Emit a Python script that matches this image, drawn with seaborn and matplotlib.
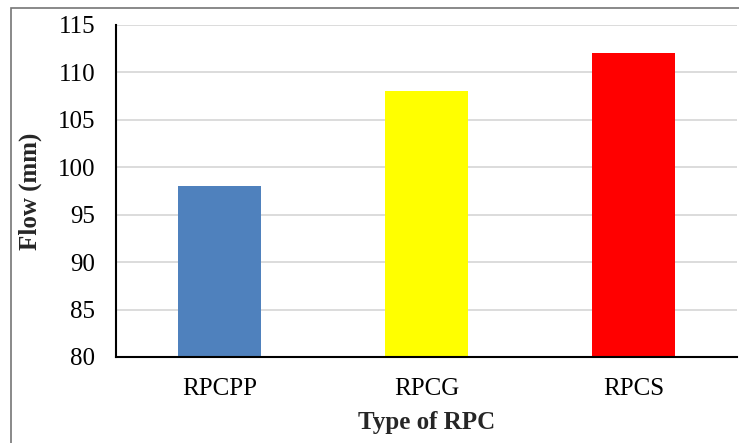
import matplotlib
matplotlib.use('Agg')
import matplotlib.pyplot as plt
import seaborn as sns
import pandas as pd
from matplotlib.patches import Rectangle

# Datos del grafico
categories = ['RPCPP', 'RPCG', 'RPCS']
flow_values = [98, 108, 112]
bar_colors = ['#4F81BD', '#FFFF00', '#FF0000']
y_ticks = [80, 85, 90, 95, 100, 105, 110, 115]

df = pd.DataFrame({'type': categories, 'flow': flow_values})

sns.set_style('white')
plt.rcParams['font.family'] = ['Liberation Serif', 'DejaVu Serif']

fig = plt.figure(figsize=(7.39, 4.43), dpi=100)
ax = fig.add_axes([116 / 739, 86 / 443, 621 / 739, 332 / 443])

sns.barplot(data=df, x='type', y='flow', hue='type', palette=bar_colors,
            width=0.40, legend=False, ax=ax, saturation=1, linewidth=0)

ax.set_ylim(80, 115)
ax.set_yticks(y_ticks)
ax.set_xlim(-0.5, 2.5)
ax.yaxis.grid(True, color='#d9d9d9', linewidth=1.3)
ax.set_axisbelow(True)
ax.tick_params(axis='both', length=0, labelsize=18, colors='black')
ax.tick_params(axis='x', pad=15)
ax.tick_params(axis='y', pad=15)

for side in ['top', 'right']:
    ax.spines[side].set_visible(False)
for side in ['left', 'bottom']:
    ax.spines[side].set_color('black')
    ax.spines[side].set_linewidth(1.5)

ax.set_xlabel('Type of RPC', fontsize=18, fontweight='bold', labelpad=8)
ax.set_ylabel('Flow (mm)', fontsize=18, fontweight='bold', labelpad=11)

# Borde exterior del grafico
fig.patches.append(Rectangle((11 / 739, -0.1), 1.2, 1.1 - 8 / 443,
                             transform=fig.transFigure, fill=False,
                             edgecolor='#767676', linewidth=1.2))

fig.savefig('out.png', dpi=100)
